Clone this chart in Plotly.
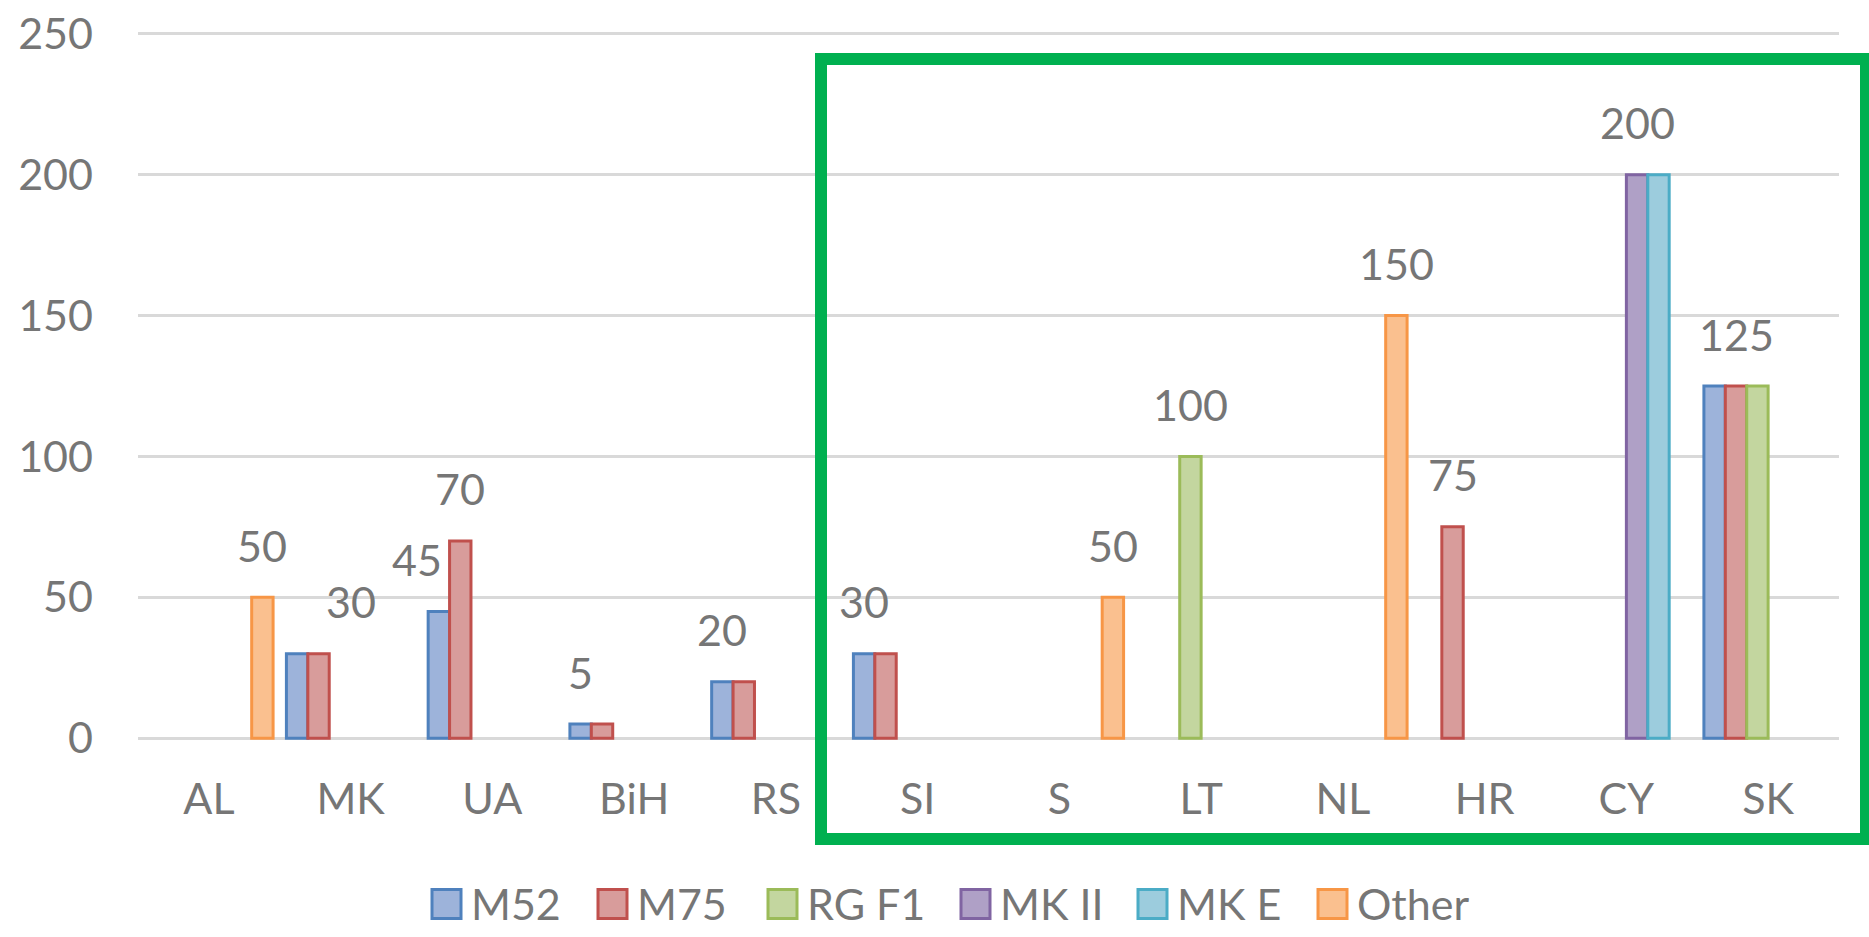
import plotly.graph_objects as go

# ---------------- data ----------------
categories = ["AL", "MK", "UA", "BiH", "RS", "SI", "S", "LT", "NL", "HR", "CY", "SK"]
series_names = ["M52", "M75", "RG F1", "MK II", "MK E", "Other"]
m52 = [None, 30, 45, 5, 20, 30, None, None, None, None, None, 125]
m75 = [None, 30, 70, 5, 20, 30, None, None, None, 75, None, 125]
rg_f1 = [None, None, None, None, None, None, None, 100, None, None, None, 125]
mk_ii = [None, None, None, None, None, None, None, None, None, None, 200, None]
mk_e = [None, None, None, None, None, None, None, None, None, None, 200, None]
other = [50, None, None, None, None, None, 50, None, 150, None, None, None]
y_ticks = [0, 50, 100, 150, 200, 250]

# which bar carries a data label (category, series)
labelled = [("AL", "Other"), ("MK", "M75"), ("UA", "M52"), ("UA", "M75"),
            ("BiH", "M52"), ("RS", "M52"), ("SI", "M52"), ("S", "Other"),
            ("LT", "RG F1"), ("NL", "Other"), ("HR", "M75"), ("CY", "MK II"),
            ("SK", "M75")]

# ---------------- style ----------------
values = [m52, m75, rg_f1, mk_ii, mk_e, other]
line_colors = ["#4F81BD", "#C0504D", "#9BBB59", "#8064A2", "#4BACC6", "#F79646"]
fill_colors = ["#9DB3DA", "#D89C9B", "#C3D69F", "#AFA0C6", "#9CCCDD", "#FAC08F"]
text_color = "#767676"
font_family = "Lato, 'Open Sans', sans-serif"
fsize = 43
legend_fsize = 43

W, H = 1869, 937
ml, mr, mt, mb = 138, 30, 31, 196
bargap = 0.094
plot_w = W - ml - mr
plot_h = H - mt - mb


def px_x(p):
    return (p - ml) / plot_w


def px_y(p):
    return (H - mb - p) / plot_h


fig = go.Figure()
for name, vals, lc, fc in zip(series_names, values, line_colors, fill_colors):
    fig.add_trace(go.Bar(
        name=name, x=categories, y=vals,
        marker=dict(color=fc, line=dict(color=lc, width=3)),
        hoverinfo="skip", showlegend=False,
    ))

# data labels
bw = plot_w / len(categories) * (1 - bargap) / len(series_names)
nudge = {("MK", "M75"): 1.5, ("UA", "M52"): -1.0}
annotations = []
for cat, ser in labelled:
    si = series_names.index(ser)
    ci = categories.index(cat)
    v = values[si][ci]
    annotations.append(dict(
        x=cat, y=v, xref="x", yref="y", text=str(v), showarrow=False,
        xshift=(si - 2.5 + nudge.get((cat, ser), 0)) * bw, yshift=52,
        yanchor="middle", xanchor="center",
        font=dict(family=font_family, size=fsize, color=text_color),
    ))

# legend (Excel-style large swatches)
legend_left = [432, 598, 768, 961, 1138, 1318]
legend_cy = 904
sw = 29
shapes = []
for name, lx, lc, fc in zip(series_names, legend_left, line_colors, fill_colors):
    shapes.append(dict(type="rect", xref="paper", yref="paper",
                       x0=px_x(lx), x1=px_x(lx + sw),
                       y0=px_y(legend_cy + sw / 2), y1=px_y(legend_cy - sw / 2),
                       line=dict(color=lc, width=3), fillcolor=fc, layer="above"))
    annotations.append(dict(x=px_x(lx + sw + 8), y=px_y(legend_cy), xref="paper", yref="paper",
                            text=name, showarrow=False, xanchor="left", yanchor="middle",
                            font=dict(family=font_family, size=legend_fsize, color=text_color)))

# green highlight frame
shapes.append(dict(type="rect", xref="paper", yref="paper",
                   x0=px_x(821), x1=px_x(1866), y0=px_y(839), y1=px_y(59),
                   line=dict(color="#00B050", width=12), fillcolor="rgba(0,0,0,0)",
                   layer="above"))

fig.update_layout(
    width=W, height=H,
    margin=dict(l=ml, r=mr, t=mt, b=mb, autoexpand=False),
    paper_bgcolor="white", plot_bgcolor="white",
    barmode="group", bargap=bargap, bargroupgap=0,
    font=dict(family=font_family, size=fsize, color=text_color),
    annotations=annotations, shapes=shapes,
    showlegend=False,
)
fig.update_xaxes(type="category", showgrid=False, showline=False, zeroline=False,
                 ticks="", ticklabelstandoff=29, automargin=False,
                 tickfont=dict(family=font_family, size=fsize, color=text_color))
fig.update_yaxes(range=[-1, 251], tickvals=y_ticks, showgrid=True,
                 gridcolor="#D9D9D9", gridwidth=3, zeroline=False, showline=False,
                 ticks="", ticklabelstandoff=44, automargin=False,
                 tickfont=dict(family=font_family, size=fsize, color=text_color))

fig.write_html("out.html",
               config={"displayModeBar": False},
               post_script="document.body.style.margin='0px';"
                           "document.body.style.overflow='hidden';")
